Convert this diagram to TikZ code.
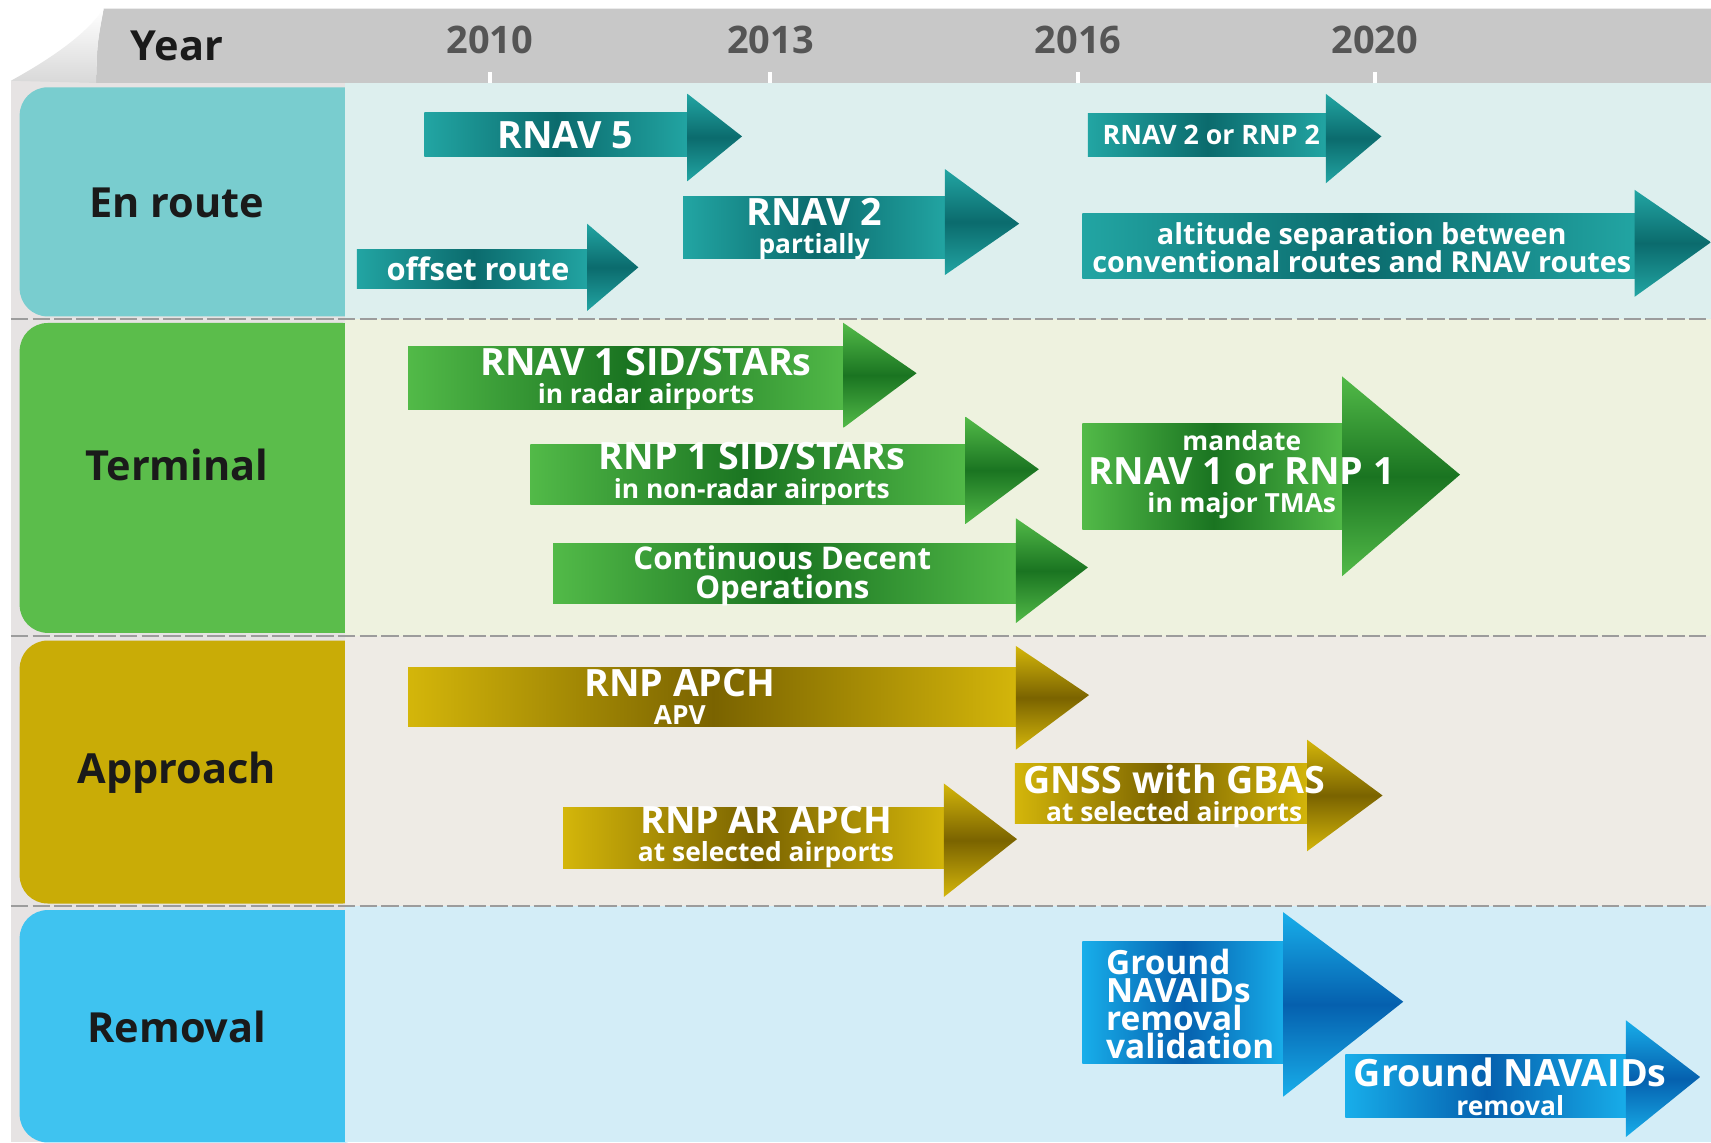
\documentclass[tikz,border=0pt]{standalone}
\usepackage{fontspec}
\setmainfont{Open Sans}
\usetikzlibrary{calc}

\definecolor{headgray}{HTML}{C8C8C8}
\definecolor{curlgray}{HTML}{D8D8D8}
\definecolor{framegray}{HTML}{E6E3E3}
\definecolor{sepgray}{HTML}{9C9C9C}
\definecolor{yearink}{HTML}{555555}
\definecolor{labelink}{HTML}{1A1A1A}
% row tabs and row backgrounds
\definecolor{tabenroute}{HTML}{79CDCF}
\definecolor{bgenroute}{HTML}{DDEFEE}
\definecolor{tabterminal}{HTML}{5BBD4B}
\definecolor{bgterminal}{HTML}{EEF2DF}
\definecolor{tabapproach}{HTML}{C9AC06}
\definecolor{bgapproach}{HTML}{EEEBE5}
\definecolor{tabremoval}{HTML}{3FC3F0}
\definecolor{bgremoval}{HTML}{D3EDF7}
% arrow shades
\definecolor{teallt}{HTML}{22A5A3}
\definecolor{tealdk}{HTML}{0B6B6D}
\definecolor{greenlt}{HTML}{52BA48}
\definecolor{greendk}{HTML}{1A7421}
\definecolor{goldlt}{HTML}{D4B60A}
\definecolor{golddk}{HTML}{7A6300}
\definecolor{bluelt}{HTML}{18AEEA}
\definecolor{bluedk}{HTML}{0560AE}

\newcommand{\armsub}{\fontsize{7.5}{9}\selectfont}
\newcommand{\armbig}{\fontsize{10.7}{9}\selectfont}

\tikzset{
  rowlabel/.style={
    text=labelink,
    font=\bfseries\fontsize{11.8}{13}\selectfont
  },
  yearmark/.style={
    text=yearink,
    font=\bfseries\fontsize{10.8}{12}\selectfont
  },
  tick/.style={draw=white, line width=1.2pt},
  sepline/.style={draw=sepgray, line width=0.6pt, dash pattern=on 5pt off 1.2pt},
  armbody/.style={left color=#1lt, right color=#1lt, middle color=#1dk},
  armhead/.style={top color=#1lt, bottom color=#1lt, middle color=#1dk},
  armtext/.style={
    text=white,
    align=center,
    inner sep=0pt,
    font=\bfseries\armbig
  }
}

\begin{document}
\begin{tikzpicture}[x=0.10912mm, y=-0.10912mm]
\useasboundingbox (0,0) rectangle (1568,1047);
\fill[white] (0,0) rectangle (1568,1047);
\fill[framegray] (10,74) rectangle (1568,1047);

% header band with the curled corner
\fill[headgray] (95,8) -- (1568,8) -- (1568,76) -- (88,76) .. controls (89,40) .. (95,8) -- cycle;
\shade[top color=white, bottom color=curlgray] (10,74) .. controls (50,52) and (80,30) .. (95,8) .. controls (89,40) .. (88,76) -- cycle;
\node[rowlabel] (year) at (162,42) {Year};
\foreach \yr/\xp in {2010/449, 2013/706, 2016/988, 2020/1260}{
  \node[yearmark] (y\yr) at (\xp,37) {\yr};
  \draw[tick] (\xp,66) -- (\xp,76);
}

% rows
\foreach \row/\ytop/\ybot/\tabtop/\tabbot in {enroute/76/292/80/290, terminal/292/583/296/580, approach/583/830/587/828, removal/830/1047/834/1047}{
  \fill[tab\row, rounded corners=8pt] (18,\tabtop) rectangle (340,\tabbot);
  \fill[bg\row] (316,\ytop) rectangle (1568,\ybot);
}
\foreach \ys in {292,583,830}
  \draw[sepline] (10,\ys) -- (1568,\ys);
\foreach \row/\yc/\txt in {enroute/186/En route, terminal/426/Terminal, approach/708/Approach, removal/941/Removal}
  \node[rowlabel] (\row) at (162,\yc) {\txt};

% en route
\shade[armbody=teal] (389,103) rectangle (632,143);
\shade[armhead=teal] (630,86) -- (680,125) -- (630,166) -- cycle;
\node[armtext] (rnavfive) at (518,124) {RNAV 5};

\shade[armbody=teal] (626,180) rectangle (868,237);
\shade[armhead=teal] (866,155) -- (934,205) -- (866,252) -- cycle;
\node[armtext] (rnavtwo) at (746,210) {RNAV 2\\[-1pt]\armsub partially};

\shade[armbody=teal] (327,229) rectangle (540,264);
\shade[armhead=teal] (538,205) -- (585,245) -- (538,285) -- cycle;
\node[armtext, font=\bfseries\fontsize{8.8}{9}\selectfont] (offset) at (438,246) {offset route};

\shade[armbody=teal] (997,104) rectangle (1217,143);
\shade[armhead=teal] (1215,86) -- (1266,125) -- (1215,168) -- cycle;
\node[armtext, font=\bfseries\fontsize{7.6}{9}\selectfont] (rnavrnp) at (1110,124) {RNAV 2 or RNP 2};

\shade[armbody=teal] (992,196) rectangle (1500,255);
\shade[armhead=teal] (1498,174) -- (1568,222) -- (1498,272) -- cycle;
\node[armtext, font=\bfseries\fontsize{8.2}{7.6}\selectfont] (altsep) at (1248,227) {altitude separation between\\[-1pt]conventional routes and RNAV routes};

% terminal
\shade[armbody=green] (374,318) rectangle (775,375);
\shade[armhead=green] (773,296) -- (840,342) -- (773,392) -- cycle;
\node[armtext] (rnavsid) at (592,347) {RNAV 1 SID/STARs\\[-1pt]\armsub in radar airports};

\shade[armbody=green] (486,407) rectangle (887,462);
\shade[armhead=green] (885,382) -- (952,430) -- (885,480) -- cycle;
\node[armtext] (rnpsid) at (689,434) {RNP 1 SID/STARs\\[-1pt]\armsub in non-radar airports};

\shade[armbody=green] (507,498) rectangle (933,553);
\shade[armhead=green] (931,475) -- (997,520) -- (931,571) -- cycle;
\node[armtext, font=\bfseries\fontsize{8.9}{8.3}\selectfont] (cdo) at (717,528) {Continuous Decent\\Operations};

\shade[armbody=green] (992,388) rectangle (1232,485);
\shade[armhead=green] (1230,345) -- (1338,435) -- (1230,528) -- cycle;
\node[armtext] (mandate) at (1138,435) {\armsub mandate\\[0.5pt]\armbig RNAV 1 or RNP 1\\[-1pt]\armsub in major TMAs};

% approach
\shade[armbody=gold] (374,612) rectangle (933,666);
\shade[armhead=gold] (931,592) -- (998,637) -- (931,687) -- cycle;
\node[armtext] (rnpapch) at (623,639) {RNP APCH\\[-1pt]\armsub APV};

\shade[armbody=gold] (516,740) rectangle (867,796);
\shade[armhead=gold] (865,718) -- (932,769) -- (865,822) -- cycle;
\node[armtext] (rnpar) at (702,767) {RNP AR APCH\\[-1pt]\armsub at selected airports};

\shade[armbody=gold] (930,700) rectangle (1200,755);
\shade[armhead=gold] (1198,678) -- (1267,729) -- (1198,780) -- cycle;
\node[armtext] (gbas) at (1076,730) {GNSS with GBAS\\[-1pt]\armsub at selected airports};

% removal
\shade[armbody=blue] (992,863) rectangle (1178,975);
\shade[armhead=blue] (1176,836) -- (1286,918) -- (1176,1005) -- cycle;
\node[armtext, align=left, anchor=west, font=\bfseries\fontsize{9.5}{8}\selectfont] (navcheck) at (1013,920) {Ground\\NAVAIDs\\removal\\validation};

\shade[armbody=blue] (1233,966) rectangle (1492,1024);
\shade[armhead=blue] (1490,935) -- (1558,987) -- (1490,1042) -- cycle;
\node[armtext] (navoff) at (1384,996) {Ground NAVAIDs\\[-1pt]\armsub removal};
\end{tikzpicture}
\end{document}
